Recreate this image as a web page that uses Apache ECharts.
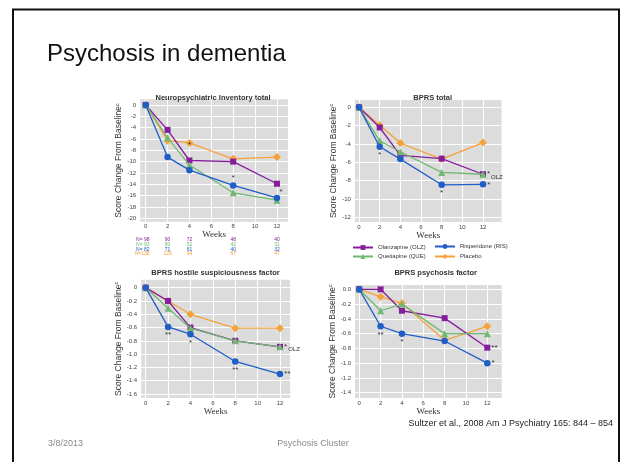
<!DOCTYPE html>
<html><head><meta charset="utf-8">
<script src="https://cdn.jsdelivr.net/npm/echarts@6/dist/echarts.min.js"></script>
<style>html,body{margin:0;padding:0;background:#fff}#c{width:621px;height:462px}</style>
</head><body><div id="c"></div>
<script>
// ---------- data ----------
const weeks = [0, 2, 4, 8, 12];
const xTicks = [0, 2, 4, 6, 8, 10, 12];
const nameOLZ = 'Olanzapine (OLZ)';
const nameQUE = 'Quetiapine (QUE)';
const nameRIS = 'Risperidone (RIS)';
const namePBO = 'Placebo';

// Neuropsychiatric Inventory total
const npiOLZ = [0, -4.4, -9.8, -10.0, -13.9];
const npiQUE = [0, -5.8, -10.6, -15.5, -16.8];
const npiRIS = [0, -9.2, -11.5, -14.2, -16.4];
const npiPBO = [0, -6.3, -6.7, -9.5, -9.2];
const npiYTicks = [0, -2, -4, -6, -8, -10, -12, -14, -16, -18, -20];
const npiNotesOLZ = ['', '', '*', '', ''];
const npiNotesRIS = ['', '', '', '*', '*'];

// BPRS total
const bprsOLZ = [0, -2.2, -5.25, -5.6, -7.3];
const bprsQUE = [0, -3.65, -4.85, -7.1, -7.3];
const bprsRIS = [0, -4.3, -5.65, -8.45, -8.4];
const bprsPBO = [0, -1.95, -3.9, -5.65, -3.85];
const bprsYTicks = [0, -2, -4, -6, -8, -10, -12];
const bprsNotesOLZ = ['', '', '', '', '*OLZ'];
const bprsNotesRIS = ['', '*', '', '*', '*'];

// BPRS hostile suspiciousness factor
const hostOLZ = [0, -0.2, -0.6, -0.8, -0.89];
const hostQUE = [0, -0.31, -0.61, -0.8, -0.89];
const hostRIS = [0, -0.59, -0.7, -1.11, -1.3];
const hostPBO = [0, -0.2, -0.4, -0.61, -0.61];
const hostYTicks = [0, -0.2, -0.4, -0.6, -0.8, -1.0, -1.2, -1.4, -1.6];
const hostNotesOLZ = ['', '', '', '', '*OLZ'];
const hostNotesRIS = ['', '**', '*', '**', '**'];

// BPRS psychosis factor
const psyOLZ = [0, 0, -0.29, -0.39, -0.79];
const psyQUE = [0, -0.29, -0.2, -0.6, -0.6];
const psyRIS = [0, -0.5, -0.6, -0.7, -1.0];
const psyPBO = [0, -0.1, -0.19, -0.69, -0.5];
const psyYTicks = [0, -0.2, -0.4, -0.6, -0.8, -1.0, -1.2, -1.4];
const psyNotesOLZ = ['', '', '', '', '**'];
const psyNotesRIS = ['', '**', '*', '', '*'];

// N per visit (NPI)
const nOLZ = [98, 90, 72, 48, 40];
const nQUE = [93, 80, 52, 42, 31];
const nRIS = [82, 71, 61, 40, 32];
const nPBO = [138, 126, 94, 67, 47];

const slideTitle = 'Psychosis in dementia';
const citation = 'Sultzer et al., 2008 Am J Psychiatry 165: 844 \u2013 854';
const footDate = '3/8/2013';
const footMid = 'Psychosis Cluster';

// ---------- styling ----------
const FONT = '"Liberation Sans", Arial, sans-serif';
const colors = {OLZ: '#861d9c', QUE: '#72b872', RIS: '#1f5ec6', PBO: '#f5a23a'};
const symbols = {OLZ: 'rect', QUE: 'triangle', RIS: 'circle', PBO: 'diamond'};
const symSize = {OLZ: 6, QUE: 7, RIS: 6.5, PBO: 8};
const names = {OLZ: nameOLZ, QUE: nameQUE, RIS: nameRIS, PBO: namePBO};

const panels = [
  {title: 'Neuropsychiatric Inventory total', vals: {OLZ: npiOLZ, QUE: npiQUE, RIS: npiRIS, PBO: npiPBO},
   notes: {OLZ: npiNotesOLZ, RIS: npiNotesRIS}, yTicks: npiYTicks,
   grid: {left: 140.2, top: 99.3, width: 147.7, height: 122.4}, xr: [-0.5, 13], yr: [-20.6, 1],
   fmt: v => String(v), tx: 213, ty: 97.5, yGap: 14, xGap: 7,
   notePos: (k, i) => (k === 'OLZ' ? {position: 'top', distance: 9} : (i === 4 ? {position: 'top', distance: 0, offset: [4, 1]} : {position: 'top', distance: 0}))},
  {title: 'BPRS total', vals: {OLZ: bprsOLZ, QUE: bprsQUE, RIS: bprsRIS, PBO: bprsPBO},
   notes: {OLZ: bprsNotesOLZ, RIS: bprsNotesRIS}, yTicks: bprsYTicks,
   grid: {left: 354.9, top: 100, width: 146.7, height: 121.9}, xr: [-0.4, 13.8], yr: [-12.5, 0.8],
   fmt: v => String(v), tx: 432.7, ty: 98, yGap: 15, xGap: 5.5,
   notePos: (k, i) => (i === 4 ? {position: 'right', distance: 1} : {position: 'bottom', distance: 1})},
  {title: 'BPRS hostile suspiciousness factor', vals: {OLZ: hostOLZ, QUE: hostQUE, RIS: hostRIS, PBO: hostPBO},
   notes: {OLZ: hostNotesOLZ, RIS: hostNotesRIS}, yTicks: hostYTicks,
   grid: {left: 141.2, top: 279.7, width: 148.9, height: 118.3}, xr: [-0.4, 12.9], yr: [-1.66, 0.12],
   fmt: v => (v === 0 ? '0' : v.toFixed(1)), tx: 215.5, ty: 273, yGap: 12, xGap: 6.5,
   notePos: (k, i) => (i === 4 ? {position: 'right', distance: 1} : {position: 'bottom', distance: 1})},
  {title: 'BPRS psychosis factor', vals: {OLZ: psyOLZ, QUE: psyQUE, RIS: psyRIS, PBO: psyPBO},
   notes: {OLZ: psyNotesOLZ, RIS: psyNotesRIS}, yTicks: psyYTicks,
   grid: {left: 355, top: 284.9, width: 146.7, height: 113}, xr: [-0.4, 13.35], yr: [-1.47, 0.06],
   fmt: v => v.toFixed(1), tx: 435.7, ty: 273.3, yGap: 14.5, xGap: 7.5,
   notePos: (k, i) => (i === 4 ? {position: 'right', distance: 1} : {position: 'bottom', distance: 1})}
];

const drawOrder = ['PBO', 'OLZ', 'QUE', 'RIS'];

const grids = [], xAxes = [], yAxes = [], series = [], graphics = [];
panels.forEach((p, gi) => {
  grids.push(Object.assign({show: true, backgroundColor: '#dcdcdc', borderWidth: 0}, p.grid));
  xAxes.push({
    type: 'value', gridIndex: gi, min: p.xr[0], max: p.xr[1],
    name: 'Weeks', nameLocation: 'middle', nameGap: p.xGap,
    nameTextStyle: {fontFamily: '"Liberation Serif", serif', fontSize: 9, color: '#333', verticalAlign: 'top'},
    axisLine: {show: false}, axisTick: {show: false, customValues: xTicks},
    axisLabel: {customValues: xTicks, fontSize: 6, color: '#444', margin: 2, fontFamily: FONT},
    splitLine: {show: true, lineStyle: {color: '#ffffff', width: 1}}
  });
  yAxes.push({
    type: 'value', gridIndex: gi, min: p.yr[0], max: p.yr[1],
    name: '{a|Score Change From Baseline}{b|c}', nameLocation: 'middle', nameGap: p.yGap,
    nameTextStyle: {rich: {
      a: {fontSize: 8.5, color: '#333', fontFamily: FONT, lineHeight: 10},
      b: {fontSize: 5.5, color: '#333', fontFamily: FONT, verticalAlign: 'top', lineHeight: 10}
    }},
    axisLine: {show: false}, axisTick: {show: false, customValues: p.yTicks},
    axisLabel: {customValues: p.yTicks, fontSize: 6, color: '#444', margin: 4, fontFamily: FONT, formatter: p.fmt},
    splitLine: {show: true, lineStyle: {color: '#ffffff', width: 1}}
  });
  drawOrder.forEach(k => {
    const vals = p.vals[k];
    const notes = p.notes[k];
    const data = vals.map((v, i) => {
      const note = notes ? notes[i] : '';
      if (!note) return [weeks[i], v];
      const pos = p.notePos(k, i);
      let formatter = note;
      if (note.indexOf('OLZ') >= 0) formatter = note.replace('OLZ', '') + '{o|OLZ}';
      return {value: [weeks[i], v], label: Object.assign({
        show: true, formatter: formatter, fontSize: 8, color: '#333', fontFamily: FONT,
        rich: {o: {fontSize: 6, color: '#333', fontFamily: FONT, padding: [6, 0, 0, 1]}}
      }, pos)};
    });
    series.push({
      type: 'line', name: names[k], xAxisIndex: gi, yAxisIndex: gi, data: data,
      symbol: symbols[k], symbolSize: symSize[k], showAllSymbol: true,
      itemStyle: {color: colors[k], borderWidth: 0},
      lineStyle: {color: colors[k], width: 1.3},
      label: {show: false}, z: 3 + drawOrder.indexOf(k)
    });
  });
  graphics.push({type: 'text', x: p.tx, y: p.ty, style: {text: p.title, fontSize: 7.5, fontWeight: 'bold', fontFamily: FONT, fill: '#333', align: 'center', verticalAlign: 'middle'}});
});

// slide decorations
graphics.push({type: 'rect', shape: {x: 13, y: 9.5, width: 606, height: 470}, style: {fill: null, stroke: '#111', lineWidth: 2}, z: 100});
graphics.push({type: 'text', x: 47, y: 54.5, style: {text: slideTitle, fontSize: 24, fontFamily: FONT, fill: '#111', align: 'left', verticalAlign: 'middle'}});
graphics.push({type: 'text', x: 613, y: 424, style: {text: citation, fontSize: 9, fontFamily: FONT, fill: '#222', align: 'right', verticalAlign: 'middle'}});
graphics.push({type: 'text', x: 48, y: 444, style: {text: footDate, fontSize: 9, fontFamily: FONT, fill: '#8a8a8a', align: 'left', verticalAlign: 'middle'}});
graphics.push({type: 'text', x: 313, y: 444, style: {text: footMid, fontSize: 9, fontFamily: FONT, fill: '#8a8a8a', align: 'center', verticalAlign: 'middle'}});

const legendText = {fontSize: 6, color: '#333', fontFamily: FONT};
const option = {
  animation: false,
  backgroundColor: '#ffffff',
  grid: grids, xAxis: xAxes, yAxis: yAxes, series: series,
  legend: [
    {data: [nameOLZ, nameQUE], orient: 'vertical', left: 352, top: 244.5, padding: 0, itemWidth: 20, itemHeight: 6, itemGap: 3, selectedMode: false, textStyle: legendText},
    {data: [nameRIS, namePBO], orient: 'vertical', left: 434, top: 243.5, padding: 0, itemWidth: 20, itemHeight: 6, itemGap: 4, selectedMode: false, textStyle: legendText}
  ],
  graphic: graphics
};

const chart = echarts.init(document.getElementById('c'), null, {renderer: 'canvas', width: 621, height: 462});
chart.setOption(option);

// N table aligned to week positions of the NPI panel
const nRows = [['OLZ', nOLZ], ['QUE', nQUE], ['RIS', nRIS], ['PBO', nPBO]];
const rowY = [240, 244.7, 249.3, 254];
const tableEls = [];
nRows.forEach((r, ri) => {
  const k = r[0], arr = r[1];
  arr.forEach((n, i) => {
    if (i === 0) {
      tableEls.push({type: 'text', x: 149.5, y: rowY[ri], style: {text: 'N=' + (n < 100 ? ' ' + n : n), fontSize: 5, fontFamily: FONT, fill: colors[k], align: 'right', verticalAlign: 'middle'}});
    } else {
      const px = chart.convertToPixel({xAxisIndex: 0}, weeks[i]);
      tableEls.push({type: 'text', x: px, y: rowY[ri], style: {text: String(n), fontSize: 5, fontFamily: FONT, fill: colors[k], align: 'center', verticalAlign: 'middle'}});
    }
  });
});
chart.setOption({graphic: graphics.concat(tableEls)});
</script></body></html>
